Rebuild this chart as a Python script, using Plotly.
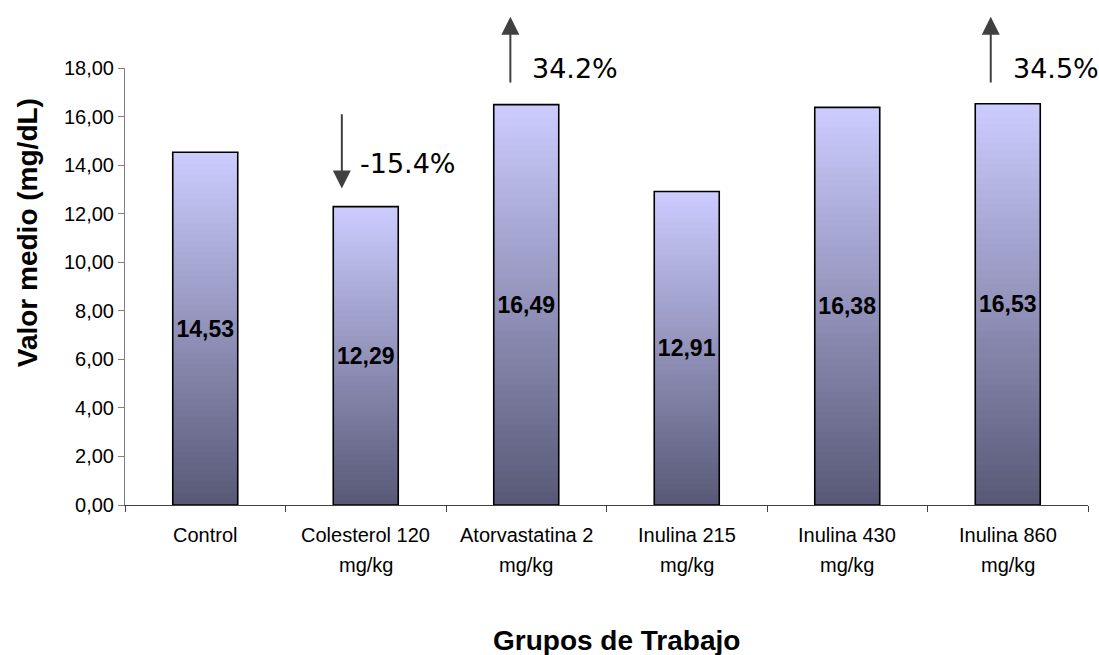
import plotly.graph_objects as go

# ---------------- data ----------------
categories = ["Control", "Colesterol 120 mg/kg", "Atorvastatina 2 mg/kg",
              "Inulina 215 mg/kg", "Inulina 430 mg/kg", "Inulina 860 mg/kg"]
tick_line1 = ["Control", "Colesterol 120", "Atorvastatina 2",
              "Inulina 215", "Inulina 430", "Inulina 860"]
tick_line2 = ["", "mg/kg", "mg/kg", "mg/kg", "mg/kg", "mg/kg"]
values = [14.53, 12.29, 16.49, 12.91, 16.38, 16.53]
value_labels = ["14,53", "12,29", "16,49", "12,91", "16,38", "16,53"]

# change annotations: category-index x, tail y, head y, text, text x, text y
arrow_x = [0.851, 1.901, 4.894]
arrow_tail_y = [16.16, 17.34, 17.34]
arrow_head_y = [13.04, 20.11, 20.11]
change_text = ["-15.4%", "34.2%", "34.5%"]
change_text_x = [0.949, 2.026, 5.02]
change_text_y = [14.07, 17.99, 17.99]

y_title = "Valor medio (mg/dL)"
x_title = "Grupos de Trabajo"

# ---------------- styling ----------------
TOP_RGB = (204, 204, 255)
BOT_RGB = (88, 88, 118)
N_STEPS = 60
BAR_GAP = 0.595

fig = go.Figure()

# gradient fill: overlapping bars from 0 up, lightest (tallest) drawn first
for k in range(N_STEPS - 1, -1, -1):
    f = (k + 0.5) / N_STEPS  # 0 bottom -> 1 top
    r = round(BOT_RGB[0] + (TOP_RGB[0] - BOT_RGB[0]) * f)
    g = round(BOT_RGB[1] + (TOP_RGB[1] - BOT_RGB[1]) * f)
    b = round(BOT_RGB[2] + (TOP_RGB[2] - BOT_RGB[2]) * f)
    fig.add_trace(go.Bar(
        x=categories,
        y=[v * (k + 1) / N_STEPS for v in values],
        marker=dict(color=f"rgb({r},{g},{b})", line=dict(width=0)),
        hoverinfo="skip",
        showlegend=False,
    ))

# outline + value labels
fig.add_trace(go.Bar(
    x=categories,
    y=values,
    marker=dict(color="rgba(0,0,0,0)", line=dict(color="black", width=1.6)),
    text=value_labels,
    textposition="inside",
    insidetextanchor="middle",
    constraintext="none",
    textfont=dict(family="Liberation Sans, Arial", size=23, color="black", weight="bold"),
    showlegend=False,
))

annotations = []
# arrows
for ax_, ay_, hy, in zip(arrow_x, arrow_tail_y, arrow_head_y):
    annotations.append(dict(
        x=ax_, y=hy, ax=ax_, ay=ay_, xref="x", yref="y", axref="x", ayref="y",
        text="", showarrow=True, arrowhead=2, arrowsize=1.8, arrowwidth=2,
        arrowcolor="#404040", standoff=0, startstandoff=0,
    ))
for tx, ty, t in zip(change_text_x, change_text_y, change_text):
    annotations.append(dict(
        x=tx, y=ty, xref="x", yref="y", text=t, showarrow=False,
        xanchor="left", yanchor="middle",
        font=dict(family="DejaVu Sans, Verdana", size=27, color="black"),
    ))
# category tick labels (two lines)
for i, (l1, l2) in enumerate(zip(tick_line1, tick_line2)):
    annotations.append(dict(
        x=i, y=0, xref="x", yref="paper", text=l1, showarrow=False,
        yanchor="middle", yshift=-30,
        font=dict(family="Liberation Sans, Arial", size=20, color="black"),
    ))
    if l2:
        annotations.append(dict(
            x=i, y=0, xref="x", yref="paper", text=l2, showarrow=False,
            yanchor="middle", yshift=-60,
            font=dict(family="Liberation Sans, Arial", size=20, color="black"),
        ))
# axis titles
annotations.append(dict(
    x=-0.101, y=0.6236, xref="paper", yref="paper", text=y_title, textangle=-90,
    showarrow=False, xanchor="center", yanchor="middle",
    font=dict(family="Liberation Sans, Arial", size=28, color="black", weight="bold"),
))
annotations.append(dict(
    x=0.51, y=0, xref="paper", yref="paper", text=x_title, showarrow=False,
    xanchor="center", yanchor="middle", yshift=-135,
    font=dict(family="Liberation Sans, Arial", size=28, color="black", weight="bold"),
))

fig.update_layout(
    width=1099, height=655,
    margin=dict(l=125, r=11, t=68, b=150, pad=0),
    paper_bgcolor="white", plot_bgcolor="white",
    barmode="overlay", bargap=BAR_GAP,
    separators=",.",
    annotations=annotations,
    showlegend=False,
    font=dict(family="Liberation Sans, Arial", color="black"),
)
fig.update_xaxes(
    type="category", showticklabels=False, tickson="boundaries",
    ticks="outside", ticklen=6, tickcolor="#404040", tickwidth=1,
    showline=True, linecolor="#404040", linewidth=1,
    showgrid=False, zeroline=False, range=[-0.5, 5.5],
)
fig.update_yaxes(
    range=[0, 18], dtick=2, tick0=0, tickformat=".2f",
    ticks="outside", ticklen=6, tickcolor="#808080", tickwidth=1,
    showline=True, linecolor="#808080", linewidth=1,
    showgrid=False, zeroline=False,
    tickfont=dict(family="Liberation Sans, Arial", size=20, color="black"),
)

fig.write_html(
    "out.html",
    config={"displayModeBar": False},
    post_script="document.body.style.margin='0';document.body.style.padding='0';"
                "document.body.style.overflow='hidden';",
)
